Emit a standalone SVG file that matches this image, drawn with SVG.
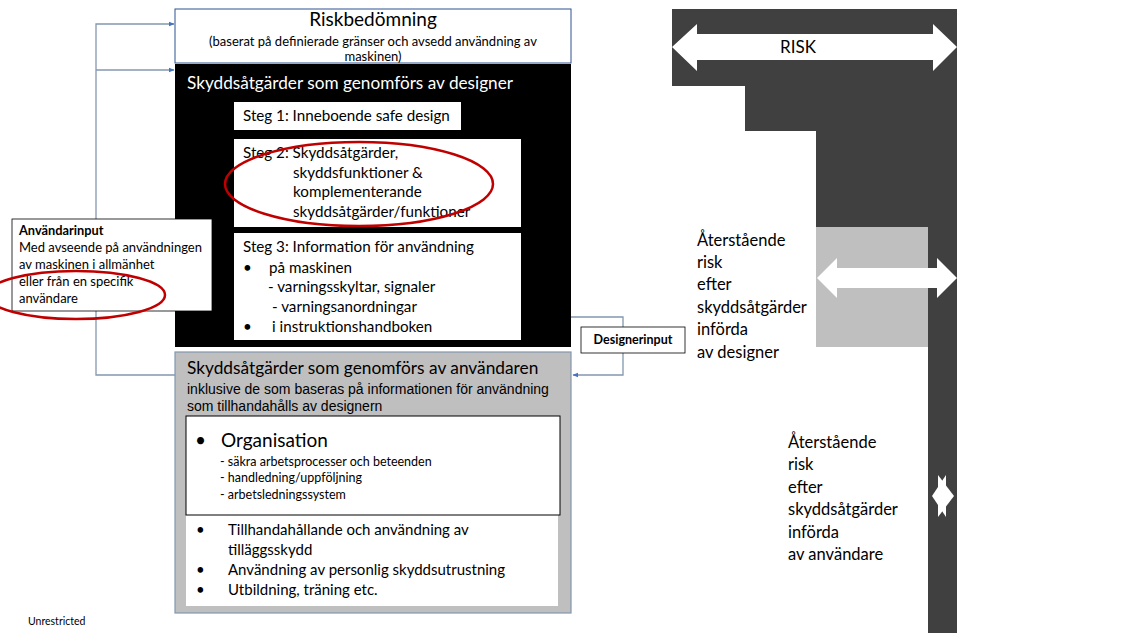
<svg xmlns="http://www.w3.org/2000/svg" width="1125" height="633" viewBox="0 0 1125 633">
<defs>
<style>
.c{font-family:Lato,"Open Sans","Liberation Sans",sans-serif;fill:#000}
.a{font-family:"Liberation Sans",Arial,sans-serif;fill:#000}
.b{font-weight:bold}
.line{fill:none;stroke:#8497b0;stroke-width:1.3}
.red{fill:none;stroke:#c00000;stroke-width:2.5}
.dark{fill:#404040}
</style>
<marker id="ah" viewBox="0 0 10 10" refX="9" refY="5" markerWidth="6" markerHeight="6" orient="auto" markerUnits="userSpaceOnUse">
<path d="M0,1 L10,5 L0,9 Z" fill="#4472c4"/>
</marker>
</defs>
<rect width="1125" height="633" fill="#fff"/>

<g id="connectors">
<polyline class="line" points="175,375 96,375 96,24 174,24" marker-end="url(#ah)"/>
<polyline class="line" points="96,70 174,70" marker-end="url(#ah)"/>
<polyline class="line" points="571,317 623,317 623,375 573,375" marker-end="url(#ah)"/>
</g>

<g id="riskbedomning">
<rect x="175" y="9" width="396" height="54" fill="#fff" stroke="#2f528f" stroke-width="1"/>
<text class="c" x="373" y="26" font-size="19" text-anchor="middle">Riskbedömning</text>
<text class="c" x="373" y="46" font-size="13" text-anchor="middle">(baserat på definierade gränser och avsedd användning av</text>
<text class="c" x="373" y="61" font-size="13" text-anchor="middle">maskinen)</text>
</g>

<g id="designer">
<rect x="175" y="64" width="396" height="283" fill="#000"/>
<text class="c" x="187" y="89" font-size="17.2" style="fill:#fff">Skyddsåtgärder som genomförs av designer</text>
</g>

<g id="steg1">
<rect x="234" y="102" width="227" height="28" fill="#fff"/>
<text class="c" x="243" y="121" font-size="15.2">Steg 1: Inneboende safe design</text>
</g>

<g id="steg2">
<rect x="234" y="139" width="287" height="88" fill="#fff"/>
<text class="c" x="243" y="158" font-size="15.2">Steg 2: Skyddsåtgärder,</text>
<text class="c" x="293" y="178" font-size="15.2">skyddsfunktioner &amp;</text>
<text class="c" x="293" y="197" font-size="15.2">komplementerande</text>
<text class="c" x="293" y="217" font-size="15.2">skyddsåtgärder/funktioner</text>
<ellipse class="red" cx="359" cy="184" rx="134" ry="42"/>
</g>

<g id="steg3">
<rect x="234" y="233" width="287" height="107" fill="#fff"/>
<text class="c" x="243" y="252" font-size="15.2">Steg 3: Information för användning</text>
<text class="c" x="243" y="273" font-size="15.2">•</text>
<text class="c" x="269" y="273" font-size="15.2">på  maskinen</text>
<text class="c" x="268" y="292" font-size="15.2">- varningsskyltar, signaler</text>
<text class="c" x="272" y="312" font-size="15.2">- varningsanordningar</text>
<text class="c" x="243" y="332" font-size="15.2">•</text>
<text class="c" x="272" y="332" font-size="15.2">i instruktionshandboken</text>
</g>

<g id="anvandarinput">
<rect x="12" y="219" width="200" height="92" fill="#fff" stroke="#000" stroke-width="0.8"/>
<text class="c b" x="19" y="235" font-size="12.8">Användarinput</text>
<text class="c" x="19" y="252" font-size="13">Med avseende på användningen</text>
<text class="c" x="19" y="269" font-size="13">av maskinen i allmänhet</text>
<text class="c" x="19" y="286" font-size="13">eller från en specifik</text>
<text class="c" x="19" y="303" font-size="13">användare</text>
<ellipse class="red" cx="76" cy="295" rx="89" ry="24"/>
</g>

<g id="designerinput">
<rect x="581" y="327" width="104" height="26" fill="#fff" stroke="#000" stroke-width="0.8"/>
<text class="c b" x="633" y="344" font-size="12.5" text-anchor="middle">Designerinput</text>
</g>

<g id="anvandaren">
<rect x="175" y="352" width="396" height="261" fill="#bfbfbf" stroke="#8497b0" stroke-width="1.2"/>
<text class="c" x="187" y="374" font-size="17.3">Skyddsåtgärder som genomförs av användaren</text>
<text class="a" x="187" y="394" font-size="14">inklusive de som baseras på informationen för användning</text>
<text class="a" x="187" y="411" font-size="14">som tillhandahålls  av designern</text>
<rect x="186" y="515" width="372" height="91" fill="#fff"/>
<text class="c" x="196" y="535" font-size="15">•</text>
<text class="c" x="228" y="535" font-size="15">Tillhandahållande och användning av</text>
<text class="c" x="228" y="555" font-size="15">tilläggsskydd</text>
<text class="c" x="196" y="575" font-size="15">•</text>
<text class="c" x="228" y="575" font-size="15">Användning av personlig skyddsutrustning</text>
<text class="c" x="196" y="595" font-size="15">•</text>
<text class="c" x="228" y="595" font-size="15">Utbildning, träning etc.</text>
</g>

<g id="organisation">
<rect x="186" y="416" width="374" height="99" fill="#fff" stroke="#000" stroke-width="1"/>
<text class="c" x="195" y="447" font-size="19">•</text>
<text class="c" x="221" y="447" font-size="19">Organisation</text>
<text class="c" x="220" y="466" font-size="12.5">- säkra arbetsprocesser och beteenden</text>
<text class="c" x="220" y="482" font-size="12.5">- handledning/uppföljning</text>
<text class="c" x="220" y="499" font-size="12.5">- arbetsledningssystem</text>
</g>

<g id="risk-scale">
<rect class="dark" x="672" y="9" width="285" height="77"/>
<rect class="dark" x="745" y="85" width="212" height="46"/>
<rect class="dark" x="816" y="130" width="141" height="98"/>
<rect class="dark" x="928" y="227" width="29" height="406"/>
<rect x="816" y="227" width="112" height="120" fill="#bfbfbf"/>
<path d="M672,47 L697,24 L697,34 L933,34 L933,24 L957,47 L933,71 L933,60 L697,60 L697,71 Z" fill="#fff"/>
<text class="c" x="798" y="53" font-size="17" text-anchor="middle">RISK</text>
<path d="M817,278 L837,258 L837,268 L937,268 L937,258 L957,278 L937,298 L937,288 L837,288 L837,298 Z" fill="#fff"/>
<path d="M932,496 L946,475 L946,517 Z" fill="#fff"/>
<path d="M954,496 L938,517 L938,475 Z" fill="#fff"/>
</g>

<g id="rest-designer">
<text class="c" x="697" y="246" font-size="16.5">Återstående</text>
<text class="c" x="697" y="268" font-size="16.5">risk</text>
<text class="c" x="697" y="290" font-size="16.5">efter</text>
<text class="c" x="697" y="313" font-size="16.5">skyddsåtgärder</text>
<text class="c" x="697" y="335" font-size="16.5">införda</text>
<text class="c" x="697" y="358" font-size="16.5">av designer</text>
</g>

<g id="rest-anvandare">
<text class="c" x="788" y="448" font-size="16.5">Återstående</text>
<text class="c" x="788" y="470" font-size="16.5">risk</text>
<text class="c" x="788" y="493" font-size="16.5">efter</text>
<text class="c" x="788" y="515" font-size="16.5">skyddsåtgärder</text>
<text class="c" x="788" y="538" font-size="16.5">införda</text>
<text class="c" x="788" y="560" font-size="16.5">av användare</text>
</g>

<text class="c" x="28" y="625" font-size="10.5">Unrestricted</text>
</svg>
